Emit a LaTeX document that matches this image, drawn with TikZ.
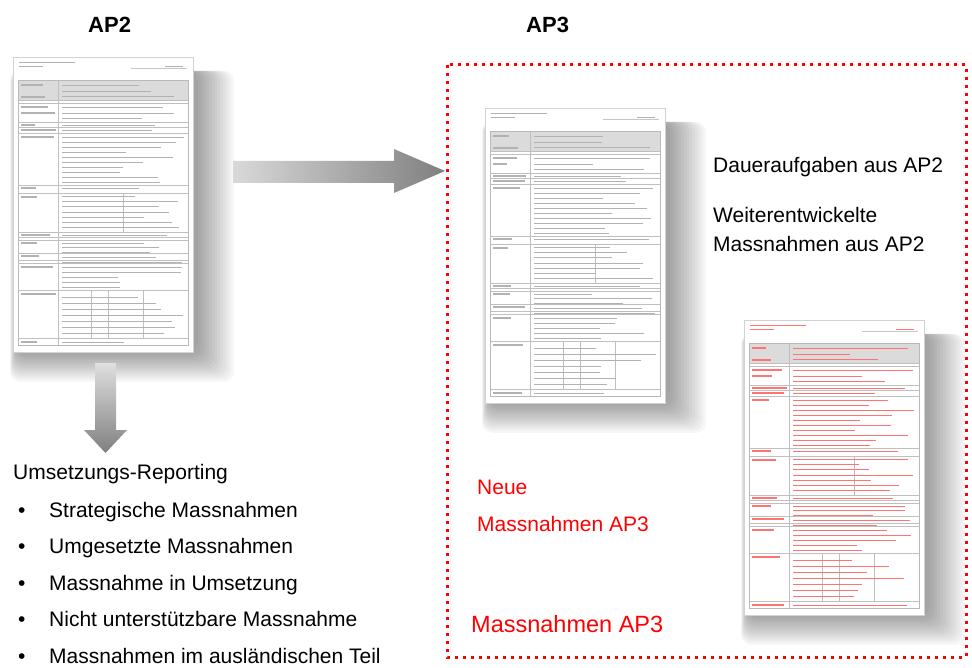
\documentclass[tikz,border=0pt]{standalone}
\usepackage{fontspec}
\setmainfont{Liberation Sans}
\begin{document}
\begin{tikzpicture}[x=1pt, y=-1pt,
  txt/.style={font=\fontsize{21}{25}\selectfont, inner sep=0pt, anchor=base west},
  aptitle/.style={font=\fontsize{22}{26}\selectfont\bfseries, inner sep=0pt, anchor=base west},
  redbox/.style={draw=red, line width=3pt, dash pattern=on 3pt off 5pt},
  pics/docpage/.style={code={
    % weicher Schatten
    \foreach \i in {1,...,14}
      \fill[black, opacity=0.03, rounded corners=10pt] (4-0.5*\i,14) rectangle (182+2.8*\i,294+2.2*\i);
    \node[draw=gray!35, fill=white, line width=0.6pt, inner sep=0pt, minimum width=180pt,
          minimum height=295pt, anchor=north west] (-page) at (0,0) {};
    % Kopfzeile
    \draw[#1, line width=0.7pt] (6,5) -- (62,5) (6,9) -- (30,9) (152,9) -- (170,9);
    \draw[gray!45, line width=0.4pt] (118,11) -- (174,11);
    % Tabelle
    \fill[gray!28] (5,23) rectangle (175,43);
    \draw[gray!55, line width=0.5pt] (5,23) rectangle (175,288);
    \foreach \r in {43,46,65,70,76,128,136,175,180,183,196,203,206,233,281}
      \draw[gray!50, line width=0.4pt] (5,\r) -- (175,\r);
    \draw[gray!50, line width=0.4pt] (45,23) -- (45,288) (110,136) -- (110,175)
      (78,233) -- (78,281) (95,233) -- (95,281) (130,233) -- (130,281);
    \foreach \r in {28,40,50,56,68,73,80,131,140,178,186,199,210,237,285}
      {\pgfmathsetmacro\len{14+rnd*22}
       \draw[#1, line width=1.1pt] (8,\r) -- ++(\len,0);}
    \foreach \r in {28,34,39,50,56,61,68,73,80,85,90,95,100,105,110,115,120,125,131,139,144,149,
                    155,160,165,170,178,186,190,195,200,205,210,215,220,225,230,240,246,252,258,264,270,276,285}
      {\pgfmathsetmacro\len{55+rnd*68}
       \draw[#1, line width=0.9pt] (49,\r) -- ++(\len,0);}
  }}]
  \useasboundingbox (0,0) rectangle (972,668);
  \pgfmathsetseed{12}
  % Titel
  \node[aptitle] (ap2) at (88,33) {AP2};
  \node[aptitle] (ap3) at (526,33) {AP3};
  % Massnahmenblaetter
  \pic (ap2doc) at (13,57) {docpage=gray!60};
  \pic (keptdoc) at (485,108) {docpage=gray!60};
  \pic (newdoc) at (744,320) {docpage=red!55};
  % Rahmen AP3
  \draw[redbox] (447,65) rectangle (966,657);
  % Pfeile
  \shade[left color=gray!30, right color=gray] (233,161) -- (394,161) -- (394,149) -- (445,171)
    -- (394,193) -- (394,183) -- (233,183) -- cycle;
  \shade[top color=gray!25, bottom color=gray] (95,363) -- (116,363) -- (116,430) -- (127,430)
    -- (105.5,453) -- (84,430) -- (95,430) -- cycle;
  % Reporting
  \node[txt] (rep) at (13,479) {Umsetzungs-Reporting};
  \foreach \t [count=\k] in {Strategische Massnahmen, Umgesetzte Massnahmen, Massnahme in Umsetzung,
                              Nicht unterstützbare Massnahme, Massnahmen im ausländischen Teil}
    {\node[txt] (dot\k) at (18,480.5+\k*36.5) {\textbullet};
     \node[txt] (item\k) at (49,480.5+\k*36.5) {\t};}
  % Texte AP3
  \node[txt] (dauer) at (713,173) {Daueraufgaben aus AP2};
  \node[txt] (weiter) at (713,223) {Weiterentwickelte};
  \node[txt] (weiter2) at (713,252) {Massnahmen aus AP2};
  \node[txt, text=red] (neue) at (477,494) {Neue};
  \node[txt, text=red] (neue2) at (477,531) {Massnahmen AP3};
  \node[txt, text=red, font=\fontsize{23.5}{28}\selectfont] (ap3label) at (471,632) {Massnahmen AP3};
\end{tikzpicture}
\end{document}
